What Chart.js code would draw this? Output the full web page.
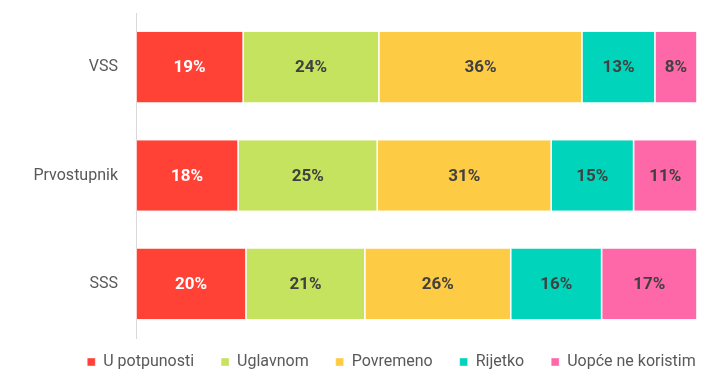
<!DOCTYPE html>
<html><head><meta charset="utf-8">
<script src="https://cdn.jsdelivr.net/npm/chart.js@4.4.1/dist/chart.umd.min.js"></script>
<style>html,body{margin:0;padding:0;background:#fff;} #wrap{width:728px;height:383px;position:relative;}</style>
</head><body><div id="wrap"><canvas id="c" width="728" height="383"></canvas></div>
<script>
const categories = ['VSS', 'Prvostupnik', 'SSS'];
const seriesNames = ['U potpunosti', 'Uglavnom', 'Povremeno', 'Rijetko', 'Uopće ne koristim'];
const uPotpunosti = [19.1, 18.2, 19.6];
const uglavnom = [24.2, 24.8, 21.2];
const povremeno = [36.2, 31.0, 26.0];
const rijetko = [13.0, 14.7, 16.2];
const uopceNeKoristim = [7.5, 11.3, 17.0];
const xTicks = [0, 100];

const seriesValues = [uPotpunosti, uglavnom, povremeno, rijetko, uopceNeKoristim];
const colors = ['#FF4136', '#C5E35E', '#FECB44', '#00D5BB', '#FF68A8'];
const labelColors = ['#FFFFFF', '#404040', '#404040', '#404040', '#404040'];
const FONT = 'Roboto';

const dataLabels = {
  id: 'dataLabels',
  afterDatasetsDraw(chart) {
    const ctx = chart.ctx;
    ctx.save();
    ctx.font = 'bold 17px ' + FONT;
    ctx.textAlign = 'center';
    ctx.textBaseline = 'middle';
    chart.data.datasets.forEach((ds, i) => {
      const meta = chart.getDatasetMeta(i);
      meta.data.forEach((el, j) => {
        const p = el.getCenterPoint();
        ctx.fillStyle = labelColors[i];
        ctx.fillText(Math.round(ds.data[j]) + '%', p.x, p.y + 1);
      });
    });
    ctx.restore();
  }
};

const legendShift = {
  id: 'legendShift',
  afterLayout(chart) {
    const lg = chart.legend;
    if (!lg) return;
    lg.top -= 11; lg.bottom -= 11;
    lg.left += 43; lg.right += 43;
  }
};

new Chart(document.getElementById('c'), {
  type: 'bar',
  data: {
    labels: categories,
    datasets: seriesNames.map((name, i) => ({
      label: name,
      data: seriesValues[i],
      backgroundColor: colors[i],
      borderColor: '#FFFFFF',
      borderWidth: {top: 0, bottom: 0, left: 0.8, right: 0.8},
      borderSkipped: false,
      categoryPercentage: 0.652,
      barPercentage: 1
    }))
  },
  options: {
    indexAxis: 'y',
    responsive: false,
    animation: false,
    devicePixelRatio: 1,
    layout: {padding: {top: 13, right: 31, bottom: -8, left: 0}},
    scales: {
      x: {
        stacked: true, min: xTicks[0], max: xTicks[1], display: false
      },
      y: {
        stacked: true,
        grid: {display: true, drawOnChartArea: false, drawTicks: true, tickLength: 18, tickColor: 'rgba(0,0,0,0)'},
        border: {display: true, color: '#D9D9D9', width: 1},
        ticks: {padding: 0, color: '#595959', font: {family: FONT, size: 16}},
        afterFit(scale) { scale.width = 136; }
      }
    },
    plugins: {
      legend: {
        position: 'bottom',
        labels: {
          boxWidth: 8, boxHeight: 8, padding: 27,
          color: '#595959', font: {family: FONT, size: 16}
        }
      },
      tooltip: {enabled: false}
    }
  },
  plugins: [dataLabels, legendShift]
});
</script>
</body></html>
